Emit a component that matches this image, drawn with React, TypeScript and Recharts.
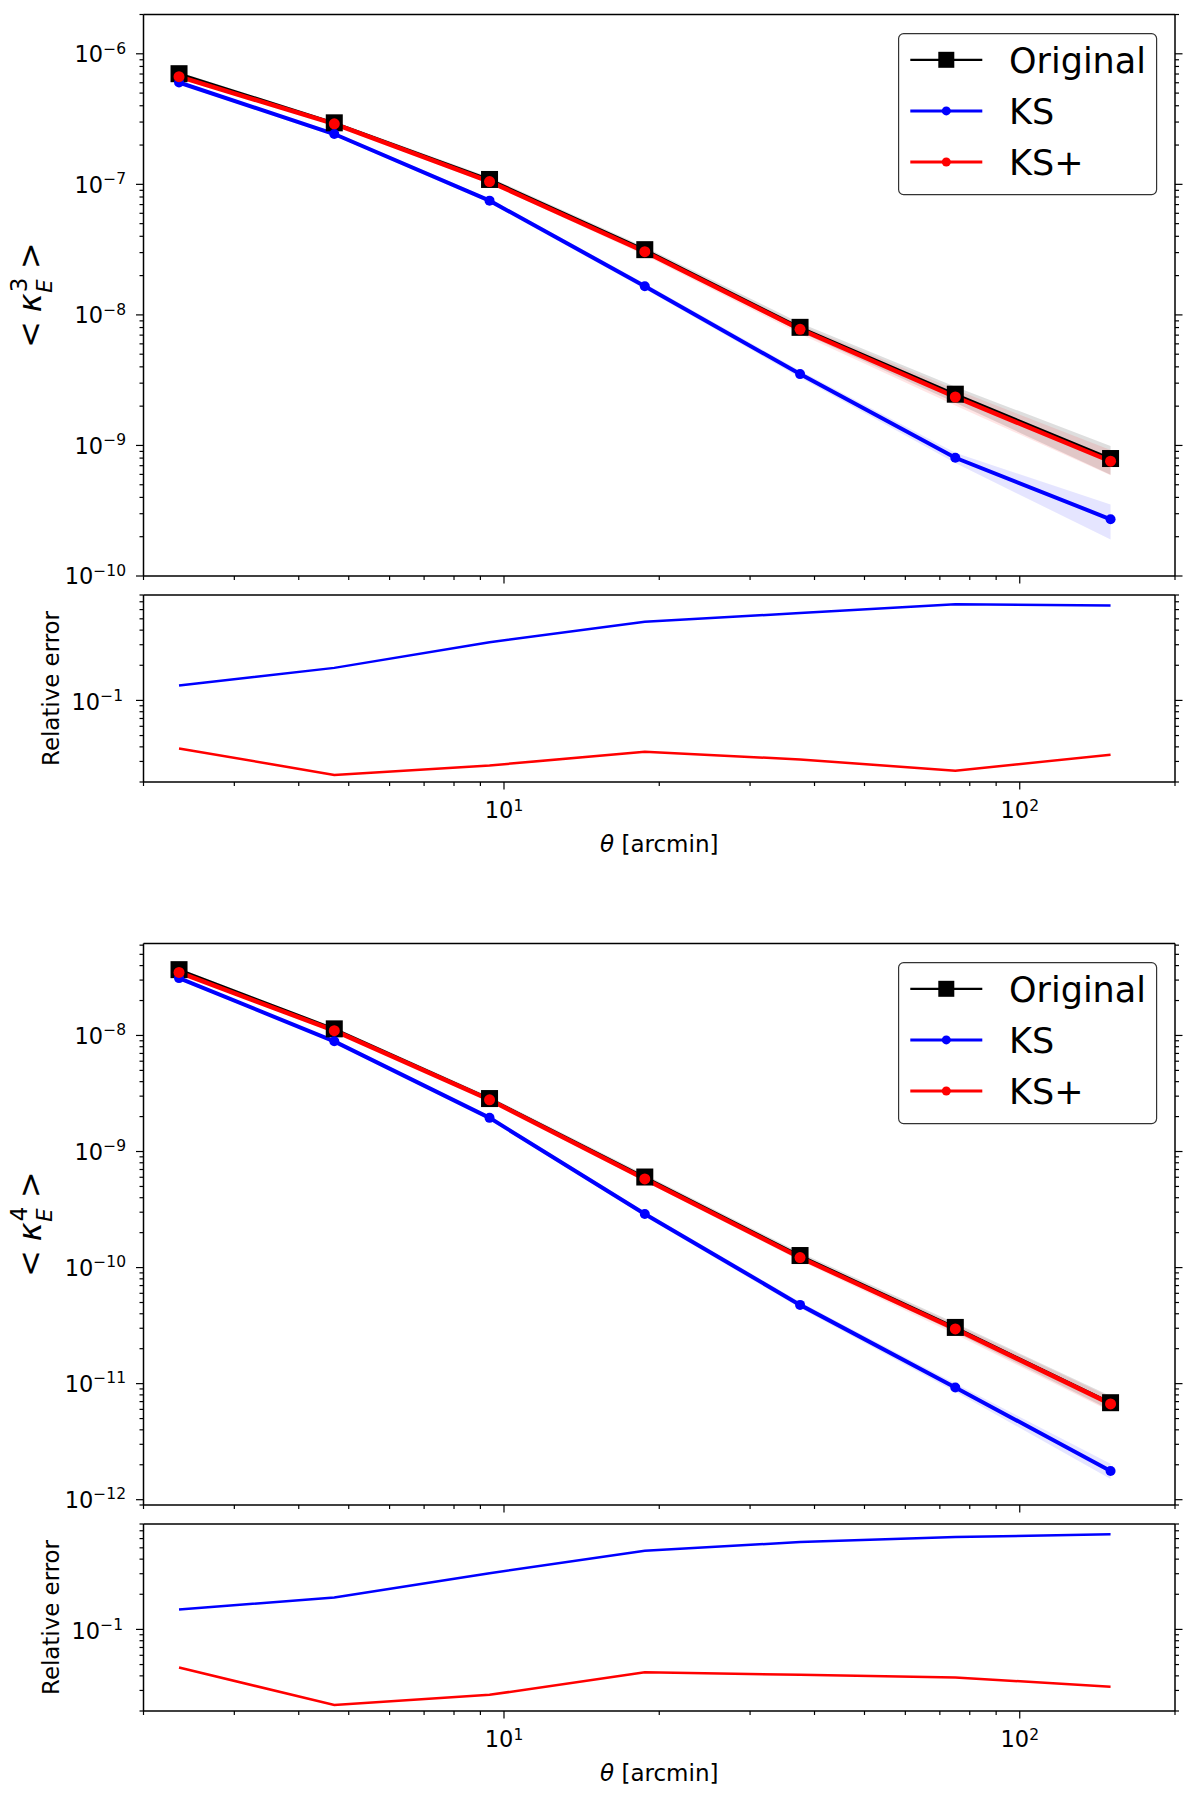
import React from 'react';
import { ComposedChart, LineChart, Line, Area, XAxis, YAxis, Legend } from 'recharts';

const FONT = '"DejaVu Sans", sans-serif';

// angular scales (arcmin)
const theta = [2.34375, 4.6875, 9.375, 18.75, 37.5, 75, 150];

// <kappa_E^3>
const k3Original = [7.04e-7, 2.96e-7, 1.09e-7, 3.16e-8, 8.03e-9, 2.47e-9, 7.94e-10];
const k3KS = [6.03e-7, 2.43e-7, 7.5e-8, 1.66e-8, 3.52e-9, 8.05e-10, 2.72e-10];
const k3KSplus = [6.68e-7, 2.91e-7, 1.05e-7, 3.05e-8, 7.76e-9, 2.35e-9, 7.57e-10];
// fractional half-width of the shaded bands
const k3OriginalErr = [0.03, 0.03, 0.04, 0.05, 0.08, 0.14, 0.25];
const k3KSErr = [0.03, 0.03, 0.04, 0.05, 0.06, 0.09, 0.3];
const k3KSplusErr = [0.03, 0.03, 0.04, 0.06, 0.08, 0.14, 0.22];
// relative error
const k3RelKS = [0.1345, 0.19, 0.315, 0.472, 0.56, 0.668, 0.65];
const k3RelKSplus = [0.0388, 0.023, 0.0277, 0.0363, 0.0312, 0.025, 0.0343];

// <kappa_E^4>
const k4Original = [3.69e-8, 1.14e-8, 2.86e-9, 6.03e-10, 1.27e-10, 3.05e-11, 6.85e-12];
const k4KS = [3.12e-8, 8.9e-9, 1.95e-9, 2.9e-10, 4.77e-11, 9.27e-12, 1.77e-12];
const k4KSplus = [3.49e-8, 1.1e-8, 2.79e-9, 5.8e-10, 1.22e-10, 2.96e-11, 6.69e-12];
const k4OriginalErr = [0.03, 0.03, 0.04, 0.05, 0.06, 0.09, 0.14];
const k4KSErr = [0.03, 0.03, 0.04, 0.05, 0.06, 0.08, 0.15];
const k4KSplusErr = [0.03, 0.03, 0.04, 0.05, 0.06, 0.1, 0.14];
const k4RelKS = [0.148, 0.188, 0.303, 0.472, 0.56, 0.62, 0.652];
const k4RelKSplus = [0.0472, 0.0225, 0.0275, 0.043, 0.0408, 0.0388, 0.0322];

const xDomain = [2, 200];
const k3Domain = [1e-10, 2e-6];
const k4Domain = [9e-13, 6.2e-8];
const relDomain = [0.02, 0.8];

const seriesNames = ['Original', 'KS', 'KS+'];

const W = 1200;
const PL = 143.5;
const PR = 1175;

function logTicks([lo, hi]: number[]) {
  const out: number[] = [];
  for (let e = Math.floor(Math.log10(lo)); e <= Math.ceil(Math.log10(hi)); e++) {
    for (let m = 1; m <= 9; m++) {
      const v = Number((m * Math.pow(10, e)).toPrecision(6));
      if (v >= lo * 0.9999 && v <= hi * 1.0001) out.push(v);
    }
  }
  return out;
}

const xTicks = logTicks(xDomain);

const band = (v: number, e: number) => [v * (1 - e), v * (1 + e)];

const k3Rows = theta.map((t, i) => ({
  theta: t,
  original: k3Original[i],
  ks: k3KS[i],
  ksPlus: k3KSplus[i],
  originalBand: band(k3Original[i], k3OriginalErr[i]),
  ksBand: band(k3KS[i], k3KSErr[i]),
  ksPlusBand: band(k3KSplus[i], k3KSplusErr[i]),
}));

const k4Rows = theta.map((t, i) => ({
  theta: t,
  original: k4Original[i],
  ks: k4KS[i],
  ksPlus: k4KSplus[i],
  originalBand: band(k4Original[i], k4OriginalErr[i]),
  ksBand: band(k4KS[i], k4KSErr[i]),
  ksPlusBand: band(k4KSplus[i], k4KSplusErr[i]),
}));

const k3RelRows = theta.map((t, i) => ({ theta: t, ks: k3RelKS[i], ksPlus: k3RelKSplus[i] }));
const k4RelRows = theta.map((t, i) => ({ theta: t, ks: k4RelKS[i], ksPlus: k4RelKSplus[i] }));

const isMajor = (v: number) => Math.abs(Math.log10(v) - Math.round(Math.log10(v))) < 1e-6;
const expText = (v: number) => {
  const e = Math.round(Math.log10(v));
  return e < 0 ? '\u2212' + Math.abs(e) : String(e);
};

const leftTick = (gap: number, base: number) => (props: any) => {
  const { y, payload } = props;
  const major = isMajor(payload.value);
  return (
    <g>
      <line x1={PL - (major ? 7.5 : 4)} x2={PL} y1={y} y2={y} stroke="#000" strokeWidth={1.2} />
      {major && (
        <text x={PL - gap} y={y + base} textAnchor="end" fontFamily={FONT} fontSize={22.5} fill="#000">
          10
          <tspan dy={-8.6} fontSize={15.5}>
            {expText(payload.value)}
          </tspan>
        </text>
      )}
    </g>
  );
};

const rightTick = (props: any) => {
  const { y, payload } = props;
  const major = isMajor(payload.value);
  return <line x1={PR} x2={PR + (major ? 7.5 : 4)} y1={y} y2={y} stroke="#000" strokeWidth={1.2} />;
};

const bottomTick = (pb: number, labels: boolean) => (props: any) => {
  const { x, payload } = props;
  const major = isMajor(payload.value);
  return (
    <g>
      <line x1={x} x2={x} y1={pb} y2={pb + (major ? 7.5 : 4)} stroke="#000" strokeWidth={1.2} />
      {labels && major && (
        <text x={x} y={pb + 36.3} textAnchor="middle" fontFamily={FONT} fontSize={22.5} fill="#000">
          10
          <tspan dy={-7} fontSize={15.5}>
            {expText(payload.value)}
          </tspan>
        </text>
      )}
    </g>
  );
};

const SquareDot = (p: any) => {
  if (p.cx == null || p.cy == null) return <g key={p.index} />;
  return <rect key={p.index} x={p.cx - 8.5} y={p.cy - 8.5} width={17} height={17} fill="#000" />;
};

const KappaLabel = ({ power, midY }: { power: number; midY: number }) => (
  <text
    transform={`translate(41, ${midY}) rotate(-90)`}
    textAnchor="middle"
    fontFamily={FONT}
    fontSize={32}
    fill="#000"
  >
    {'<'}
    <tspan dx={9} fontStyle="italic">
      κ
    </tspan>
    <tspan dx={1} dy={-14} fontSize={23}>
      {power}
    </tspan>
    <tspan dx={-15} dy={25} fontSize={21} fontStyle="italic">
      E
    </tspan>
    <tspan dx={10} dy={-11}>
      {'>'}
    </tspan>
  </text>
);

const RelLabel = ({ midY }: { midY: number }) => (
  <text
    transform={`translate(59.3, ${midY}) rotate(-90)`}
    textAnchor="middle"
    fontFamily={FONT}
    fontSize={23}
    textLength={155}
    lengthAdjust="spacingAndGlyphs"
    fill="#000"
  >
    Relative error
  </text>
);

const ThetaLabel = ({ baseY }: { baseY: number }) => (
  <text transform={`translate(${(PL + PR) / 2}, ${baseY})`} textAnchor="middle" fontFamily={FONT} fontSize={23} fill="#000">
    <tspan fontStyle="italic">θ</tspan> [arcmin]
  </text>
);

const LegendBox = () => {
  const colors = ['#000000', '#0000ff', '#ff0000'];
  return (
    <svg width={260} height={163} style={{ display: 'block' }}>
      <rect x={0.6} y={0.6} width={258} height={161} rx={5} fill="#fff" fillOpacity={0.85} stroke="#333" strokeWidth={1.2} />
      {seriesNames.map((name, i) => {
        const cy = 26.8 + i * 51.1;
        return (
          <g key={name}>
            <line x1={12.3} x2={84.3} y1={cy} y2={cy} stroke={colors[i]} strokeWidth={i === 0 ? 2.2 : 3} />
            {i === 0 ? (
              <rect x={48.3 - 8} y={cy - 8} width={16} height={16} fill="#000" />
            ) : (
              <circle cx={48.3} cy={cy} r={4.5} fill={colors[i]} />
            )}
            <text x={111} y={cy + 13.4} fontFamily={FONT} fontSize={35} fill="#000">
              {name}
            </text>
          </g>
        );
      })}
    </svg>
  );
};

const axisStroke = { stroke: '#000', strokeWidth: 1.5 };

// axes get a 1px box (recharts skips axes of zero size); margins are reduced to match
const chartMargin = (mt: number, height: number, pb: number) => ({
  top: mt - 1,
  right: W - PR - 1,
  bottom: height - pb - 1,
  left: PL - 1,
});

function MainPanel({ top, height, plotTop, plotBottom, rows, domain, power }: any) {
  const mt = plotTop - top;
  const pb = plotBottom - top;
  const yTicks = logTicks(domain);
  return (
    <div style={{ position: 'absolute', left: 0, top }}>
      <ComposedChart width={W} height={height} data={rows} margin={chartMargin(mt, height, pb)}>
        <XAxis
          dataKey="theta"
          type="number"
          scale="log"
          domain={xDomain}
          allowDataOverflow
          ticks={xTicks}
          interval={0}
          height={1}
          tickSize={0}
          tickMargin={0}
          tickLine={false}
          axisLine={axisStroke}
          tick={bottomTick(pb, false)}
        />
        <XAxis
          xAxisId="top"
          orientation="top"
          type="number"
          scale="log"
          domain={xDomain}
          allowDataOverflow
          ticks={[2, 200]}
          height={1}
          tick={false}
          tickLine={false}
          axisLine={axisStroke}
        />
        <YAxis
          type="number"
          scale="log"
          domain={domain}
          allowDataOverflow
          ticks={yTicks}
          interval={0}
          width={1}
          tickSize={0}
          tickMargin={0}
          tickLine={false}
          axisLine={axisStroke}
          tick={leftTick(17.5, 8.4)}
          label={<KappaLabel power={power} midY={(plotTop + plotBottom) / 2 - top} />}
        />
        <YAxis
          yAxisId="right"
          orientation="right"
          type="number"
          scale="log"
          domain={domain}
          allowDataOverflow
          ticks={yTicks}
          interval={0}
          width={1}
          tickSize={0}
          tickMargin={0}
          tickLine={false}
          axisLine={axisStroke}
          tick={rightTick}
        />
        <Area type="linear" dataKey="originalBand" stroke="none" fill="#000000" fillOpacity={0.13} isAnimationActive={false} activeDot={false} />
        <Area type="linear" dataKey="ksBand" stroke="none" fill="#0000ff" fillOpacity={0.1} isAnimationActive={false} activeDot={false} />
        <Area type="linear" dataKey="ksPlusBand" stroke="none" fill="#ff0000" fillOpacity={0.1} isAnimationActive={false} activeDot={false} />
        <Line type="linear" dataKey="original" name="Original" stroke="#000" strokeWidth={2.5} dot={SquareDot} activeDot={false} isAnimationActive={false} />
        <Line type="linear" dataKey="ks" name="KS" stroke="#0000ff" strokeWidth={4} dot={{ r: 5, fill: '#0000ff', stroke: 'none' }} activeDot={false} isAnimationActive={false} />
        <Line type="linear" dataKey="ksPlus" name="KS+" stroke="#ff0000" strokeWidth={4.5} dot={{ r: 5.5, fill: '#ff0000', stroke: 'none' }} activeDot={false} isAnimationActive={false} />
        <Legend
          layout="horizontal"
          verticalAlign="middle"
          align="center"
          wrapperStyle={{ left: 897.7, top: mt + 18, width: 260, height: 163 }}
          content={() => <LegendBox />}
        />
      </ComposedChart>
    </div>
  );
}

function RatioPanel({ top, height, plotTop, plotBottom, rows }: any) {
  const mt = plotTop - top;
  const pb = plotBottom - top;
  const yTicks = logTicks(relDomain);
  return (
    <div style={{ position: 'absolute', left: 0, top }}>
      <LineChart width={W} height={height} data={rows} margin={chartMargin(mt, height, pb)}>
        <XAxis
          dataKey="theta"
          type="number"
          scale="log"
          domain={xDomain}
          allowDataOverflow
          ticks={xTicks}
          interval={0}
          height={1}
          tickSize={0}
          tickMargin={0}
          tickLine={false}
          axisLine={axisStroke}
          tick={bottomTick(pb, true)}
          label={<ThetaLabel baseY={pb + 69.5} />}
        />
        <XAxis
          xAxisId="top"
          orientation="top"
          type="number"
          scale="log"
          domain={xDomain}
          allowDataOverflow
          ticks={[2, 200]}
          height={1}
          tick={false}
          tickLine={false}
          axisLine={axisStroke}
        />
        <YAxis
          type="number"
          scale="log"
          domain={relDomain}
          allowDataOverflow
          ticks={yTicks}
          interval={0}
          width={1}
          tickSize={0}
          tickMargin={0}
          tickLine={false}
          axisLine={axisStroke}
          tick={leftTick(20.5, 9.3)}
          label={<RelLabel midY={(plotTop + plotBottom) / 2 - top} />}
        />
        <YAxis
          yAxisId="right"
          orientation="right"
          type="number"
          scale="log"
          domain={relDomain}
          allowDataOverflow
          ticks={yTicks}
          interval={0}
          width={1}
          tickSize={0}
          tickMargin={0}
          tickLine={false}
          axisLine={axisStroke}
          tick={rightTick}
        />
        <Line type="linear" dataKey="ks" stroke="#0000ff" strokeWidth={2.5} dot={false} activeDot={false} isAnimationActive={false} />
        <Line type="linear" dataKey="ksPlus" stroke="#ff0000" strokeWidth={2.5} dot={false} activeDot={false} isAnimationActive={false} />
      </LineChart>
    </div>
  );
}

export default function App() {
  return (
    <div style={{ position: 'absolute', left: 0, top: 0, width: W, height: 1797, background: '#fff' }}>
      <MainPanel top={0} height={590} plotTop={14.5} plotBottom={576} rows={k3Rows} domain={k3Domain} power={3} />
      <RatioPanel top={590} height={280} plotTop={595} plotBottom={782} rows={k3RelRows} />
      <MainPanel top={870} height={650} plotTop={943.5} plotBottom={1505} rows={k4Rows} domain={k4Domain} power={4} />
      <RatioPanel top={1520} height={277} plotTop={1524} plotBottom={1711} rows={k4RelRows} />
    </div>
  );
}
